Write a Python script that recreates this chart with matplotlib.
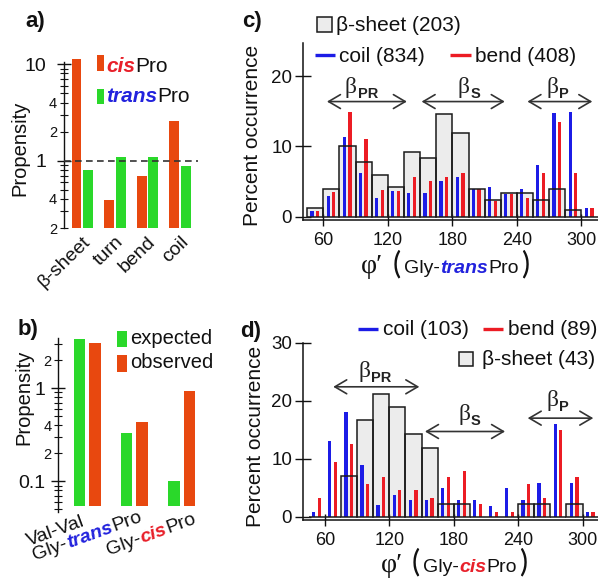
import numpy as np
import matplotlib
matplotlib.use('Agg')
import matplotlib.pyplot as plt
from matplotlib.patches import Rectangle
from matplotlib.lines import Line2D
from matplotlib.ticker import LogLocator, FuncFormatter

plt.rcParams['font.family'] = ['Liberation Sans', 'DejaVu Sans']
plt.rcParams['text.color'] = '#111111'
plt.rcParams['axes.edgecolor'] = '#111111'
plt.rcParams['xtick.color'] = '#111111'
plt.rcParams['ytick.color'] = '#111111'

# ---------------- data ----------------
a_categories = ['β-sheet', 'turn', 'bend', 'coil']
a_cis = [11.2, 0.39, 0.70, 2.6]
a_trans = [0.80, 1.10, 1.10, 0.88]

b_categories = ['Val-Val', 'Gly-transPro', 'Gly-cisPro']
b_expected = [3.37, 0.33, 0.10]
b_observed = [3.08, 0.43, 0.935]

bin_left = [45, 60, 75, 90, 105, 120, 135, 150, 165, 180, 195, 210, 225, 240, 255, 270, 285, 300]
c_sheet = [1.2, 4.0, 10.1, 7.8, 5.9, 4.3, 9.2, 8.3, 14.6, 11.9, 4.0, 2.4, 3.4, 3.4, 2.4, 4.0, 1.0, 0.0]
c_coil = [0.85, 3.0, 11.3, 6.2, 2.6, 3.7, 3.4, 3.4, 5.1, 5.6, 3.9, 4.3, 3.2, 3.9, 7.3, 14.7, 14.9, 1.2]
c_bend = [0.85, 3.5, 14.9, 11.1, 3.8, 3.7, 5.6, 5.1, 5.6, 6.2, 3.9, 2.2, 3.2, 2.6, 6.2, 13.5, 6.2, 1.2]
d_sheet = [0.0, 0.0, 7.0, 16.6, 21.2, 18.9, 14.2, 11.9, 2.2, 2.2, 0.0, 0.0, 0.0, 2.2, 2.2, 0.0, 2.2, 0.0]
d_coil = [0.9, 13.1, 18.1, 8.9, 2.0, 3.8, 2.9, 2.9, 4.9, 2.9, 2.9, 1.9, 4.9, 2.9, 5.9, 16.0, 5.9, 0.9]
d_bend = [3.2, 9.4, 12.6, 5.6, 6.9, 4.6, 4.6, 3.2, 6.9, 7.9, 2.2, 0.9, 0.9, 5.6, 3.2, 15.0, 6.9, 0.9]

x_ticks = [60, 120, 180, 240, 300]

# ---------------- style ----------------
CIS = '#E8480F'
GREEN = '#2AD82A'
BLUE = '#1C1CE6'
RED = '#EC1C24'
CIS_TXT = '#E8202A'
TRANS_TXT = '#2222DD'
SHEET = '#ECECEC'
DARK = '#111111'
ARROW = '#333333'
PAREN = dict(family=['Lato', 'Liberation Sans'], fontweight='normal', fontsize=22)

W, H = 598, 586
fig = plt.figure(figsize=(W / 100, H / 100), dpi=100)


def px_rect(l, t, r, b):
    return [l / W, 1 - b / H, (r - l) / W, (b - t) / H]


def fx(x):
    return x / W


def fy(y):
    return 1 - y / H


def rich(x_px, y_px, pieces, ha='left', rotation=0):
    r = fig.canvas.get_renderer()
    arts, widths = [], []
    for s, kw, gap in pieces:
        t = fig.text(0, 0, s, ha='left', va='baseline', rotation=0,
                     rotation_mode='anchor', **kw)
        w = t.get_window_extent(r).width
        t.set_rotation(rotation)
        arts.append(t)
        widths.append(w + gap)
    total = sum(widths) - pieces[-1][2]
    th = np.radians(rotation)
    c, s_ = np.cos(th), np.sin(th)
    X0, Y0 = x_px, H - y_px
    if ha == 'center':
        X0 -= total / 2 * c
        Y0 -= total / 2 * s_
    elif ha == 'right':
        X0 -= total * c
        Y0 -= total * s_
    cum = 0
    for t, w in zip(arts, widths):
        t.set_position(((X0 + cum * c) / W, (Y0 + cum * s_) / H))
        cum += w


def minor_fmt(mapping):
    def f(v, p):
        for key, lab in mapping:
            if abs(v - key) / key < 1e-6:
                return lab
        return ''
    return FuncFormatter(f)


def fig_rect(l, t, r, b, **kw):
    fig.add_artist(Rectangle((fx(l), fy(b)), (r - l) / W, (b - t) / H,
                             transform=fig.transFigure, **kw))


def fig_line(x0, x1, y, **kw):
    fig.add_artist(Line2D([fx(x0), fx(x1)], [fy(y), fy(y)],
                          transform=fig.transFigure, **kw))


# ---------------- panel a ----------------
axa = fig.add_axes(px_rect(64, 61.7, 198, 228))
xa = np.arange(len(a_categories))
axa.bar(xa - 0.175, np.array(a_cis) - 0.2, bottom=0.2, width=0.3, color=CIS, clip_on=False, zorder=2)
axa.bar(xa + 0.18, np.array(a_trans) - 0.2, bottom=0.2, width=0.3, color=GREEN, clip_on=False, zorder=2)
axa.set_yscale('log')
axa.set_ylim(0.2, 10.6)
axa.set_xlim(-0.56, 3.55)
axa.axhline(1, color=ARROW, lw=1.2, ls=(0, (4, 2.6)), zorder=3)
for sp in ['top', 'right', 'bottom']:
    axa.spines[sp].set_visible(False)
axa.spines['left'].set_linewidth(1.0)
axa.set_xticks(xa)
axa.set_xticklabels(a_categories, rotation=44, ha='right', va='top',
                    rotation_mode='anchor', fontsize=14)
axa.tick_params(axis='x', length=0, pad=4)
axa.set_yticks([1, 10])
axa.set_yticklabels(['1', '10'], fontsize=14)
axa.yaxis.set_minor_locator(LogLocator(base=10, subs=np.arange(2, 10), numticks=20))
axa.yaxis.set_minor_formatter(minor_fmt([(0.2, '2'), (0.4, '4'), (2, '2'), (4, '4')]))
axa.tick_params(axis='y', which='major', direction='inout', length=10, width=1.0, pad=8)
axa.tick_params(axis='y', which='minor', direction='inout', length=6, width=0.8, pad=2, labelsize=10.5)

fig.text(fx(20), fy(148), 'Propensity', rotation=90, ha='center', va='center', fontsize=14.5)
fig.text(fx(25), fy(22), 'a)', fontsize=16, fontweight='bold', ha='left', va='center')

fig_rect(97, 55, 104, 71, facecolor=CIS, edgecolor='none')
rich(106, 71.5, [('cis', dict(fontsize=15, fontweight='bold', fontstyle='italic', color=CIS_TXT), 0.5),
                 ('Pro', dict(fontsize=15), 0)])
fig_rect(97, 89, 104, 104, facecolor=GREEN, edgecolor='none')
rich(106, 102.5, [('trans', dict(fontsize=15, fontweight='bold', fontstyle='italic', color=TRANS_TXT), 0.5),
                  ('Pro', dict(fontsize=15), 0)])

# ---------------- panel b ----------------
axb = fig.add_axes(px_rect(58, 338.3, 205, 512))
xb = np.arange(len(b_categories))
axb.bar(xb - 0.16, np.array(b_expected) - 0.055, bottom=0.055, width=0.24, color=GREEN, clip_on=False)
axb.bar(xb + 0.165, np.array(b_observed) - 0.055, bottom=0.055, width=0.24, color=CIS, clip_on=False)
axb.set_yscale('log')
axb.set_ylim(0.047, 3.43)
axb.set_xlim(-0.62, 2.5)
for sp in ['top', 'right', 'bottom']:
    axb.spines[sp].set_visible(False)
axb.spines['left'].set_linewidth(1.0)
axb.set_xticks([])
axb.set_yticks([0.1, 1])
axb.set_yticklabels(['0.1', '1'], fontsize=14)
axb.yaxis.set_minor_locator(LogLocator(base=10, subs=np.arange(2, 10), numticks=20))
axb.yaxis.set_minor_formatter(minor_fmt([(0.2, '2'), (0.4, '4'), (2, '2')]))
axb.tick_params(axis='y', which='major', direction='inout', length=10, width=1.0, pad=4)
axb.tick_params(axis='y', which='minor', direction='inout', length=6, width=0.8, pad=1.5, labelsize=10.5)

fig.text(fx(24), fy(397), 'Propensity', rotation=90, ha='center', va='center', fontsize=14.5)
fig.text(fx(18), fy(330), 'b)', fontsize=16, fontweight='bold', ha='left', va='center')

fig_rect(117, 331, 127, 347, facecolor=GREEN, edgecolor='none')
fig.text(fx(130), fy(344), 'expected', fontsize=14.5, ha='left', va='baseline')
fig_rect(117, 355, 127, 372, facecolor=CIS, edgecolor='none')
fig.text(fx(130), fy(368), 'observed', fontsize=14.5, ha='left', va='baseline')

rich(86, 525.5, [(b_categories[0], dict(fontsize=14), 0)], ha='right', rotation=20)
rich(143, 521, [('Gly-', dict(fontsize=14), 0.5),
                ('trans', dict(fontsize=14, fontweight='bold', fontstyle='italic', color=TRANS_TXT), 0.5),
                ('Pro', dict(fontsize=14), 0)], ha='right', rotation=20)
rich(197, 523, [('Gly-', dict(fontsize=14), 0.5),
                ('cis', dict(fontsize=14, fontweight='bold', fontstyle='italic', color=CIS_TXT), 0.5),
                ('Pro', dict(fontsize=14), 0)], ha='right', rotation=20)


# ---------------- panels c, d ----------------
def hist_panel(ax, sheet, coil, bend, ylim, yticks, xlim):
    left = np.array(bin_left, dtype=float)
    ax.bar(left, sheet, width=15, align='edge', color=SHEET, edgecolor='none', zorder=1)
    ax.bar(left + 4.5, coil, width=3, color=BLUE, zorder=2)
    ax.bar(left + 9.8, bend, width=3, color=RED, zorder=2)
    ax.bar(left, sheet, width=15, align='edge', fill=False, edgecolor='#1a1a1a', lw=1.1, zorder=3)
    ax.set_xlim(*xlim)
    ax.set_ylim(*ylim)
    for sp in ['top', 'right']:
        ax.spines[sp].set_visible(False)
    for sp in ['left', 'bottom']:
        ax.spines[sp].set_linewidth(1.1)
    ax.set_xticks(x_ticks)
    ax.set_xticklabels([str(v) for v in x_ticks], fontsize=13)
    ax.set_yticks(yticks)
    ax.set_yticklabels([str(v) for v in yticks], fontsize=13.5)
    ax.tick_params(axis='x', direction='inout', length=9, width=1.0, pad=4)
    ax.tick_params(axis='y', direction='inout', length=11, width=1.0, pad=2.5)


def arrow(ax, x0, x1, y):
    ax.annotate('', xy=(x1, y), xytext=(x0, y),
                arrowprops=dict(arrowstyle='<->,head_length=0.85,head_width=0.5',
                                lw=1.2, color=ARROW, shrinkA=0, shrinkB=0))


def beta(ax, x, y, sub):
    t = ax.text(x, y, 'β', family=['Liberation Serif', 'DejaVu Serif'], fontsize=17,
                ha='left', va='baseline', color='#222222')
    ax.annotate(sub, xy=(1, 0), xycoords=t, xytext=(0.5, -2.2), textcoords='offset points',
                fontsize=10.5, fontweight='bold', ha='left', va='bottom', color='#222222')


axc = fig.add_axes(px_rect(303.3, 43.3, 598, 220.2))
hist_panel(axc, c_sheet, c_coil, c_bend, (-0.5, 24.7), [0, 10, 20], (41.4, 315.4))
arrow(axc, 63.4, 137.7, 16.4)
arrow(axc, 151.4, 228.7, 16.4)
arrow(axc, 249.8, 310.1, 16.4)
beta(axc, 80.1, 17.6, 'PR')
beta(axc, 185.0, 17.6, 'S')
beta(axc, 267.7, 17.6, 'P')

fig.text(fx(252.5), fy(135), 'Percent occurrence', rotation=90, ha='center', va='center', fontsize=15)
fig.text(fx(242), fy(22), 'c)', fontsize=16, fontweight='bold', ha='left', va='center')

fig_rect(317, 17, 332, 32, facecolor=SHEET, edgecolor='#1a1a1a', lw=1.1)
fig.text(fx(336), fy(31), 'β-sheet (203)', fontsize=15, ha='left', va='baseline')
fig_line(315, 335, 55, color=BLUE, lw=2.4, solid_capstyle='butt')
fig.text(fx(339), fy(62), 'coil (834)', fontsize=15, ha='left', va='baseline')
fig_line(450, 471, 55, color=RED, lw=2.4, solid_capstyle='butt')
fig.text(fx(475), fy(62), 'bend (408)', fontsize=15, ha='left', va='baseline')

rich(445, 273.3, [('φ′', dict(family=['Liberation Serif', 'DejaVu Serif'], fontsize=20), 9),
                  ('(', PAREN, 3),
                  ('Gly-', dict(fontsize=14), 0.5),
                  ('trans', dict(fontsize=14, fontweight='bold', fontstyle='italic', color=TRANS_TXT), 0.5),
                  ('Pro', dict(fontsize=14), 2),
                  (')', PAREN, 0)], ha='center')

axd = fig.add_axes(px_rect(303.3, 342.7, 598, 520))
hist_panel(axd, d_sheet, d_coil, d_bend, (-0.55, 30), [0, 10, 20, 30], (39.8, 314.4))
arrow(axd, 67.7, 147.9, 22.4)
arrow(axd, 153.2, 227.8, 14.7)
arrow(axd, 248.9, 310.0, 17.0)
beta(axd, 90.8, 24.1, 'PR')
beta(axd, 184.2, 16.7, 'S')
beta(axd, 266.6, 19.1, 'P')

fig.text(fx(255.5), fy(436), 'Percent occurrence', rotation=90, ha='center', va='center', fontsize=15)
fig.text(fx(240), fy(331), 'd)', fontsize=16, fontweight='bold', ha='left', va='center')

fig_line(357.7, 378.3, 329.3, color=BLUE, lw=2.4, solid_capstyle='butt')
fig.text(fx(383), fy(335), 'coil (103)', fontsize=15, ha='left', va='baseline')
fig_line(482.7, 503.3, 329.3, color=RED, lw=2.4, solid_capstyle='butt')
fig.text(fx(508), fy(335), 'bend (89)', fontsize=15, ha='left', va='baseline')
fig_rect(459, 352, 473, 366, facecolor=SHEET, edgecolor='#1a1a1a', lw=1.1)
fig.text(fx(481.7), fy(365), 'β-sheet (43)', fontsize=15, ha='left', va='baseline')

rich(454, 571.7, [('φ′', dict(family=['Liberation Serif', 'DejaVu Serif'], fontsize=20), 9),
                  ('(', PAREN, 3),
                  ('Gly-', dict(fontsize=14), 0.5),
                  ('cis', dict(fontsize=14, fontweight='bold', fontstyle='italic', color=CIS_TXT), 0.5),
                  ('Pro', dict(fontsize=14), 2),
                  (')', PAREN, 0)], ha='center')

fig.savefig('out.png', dpi=100)
